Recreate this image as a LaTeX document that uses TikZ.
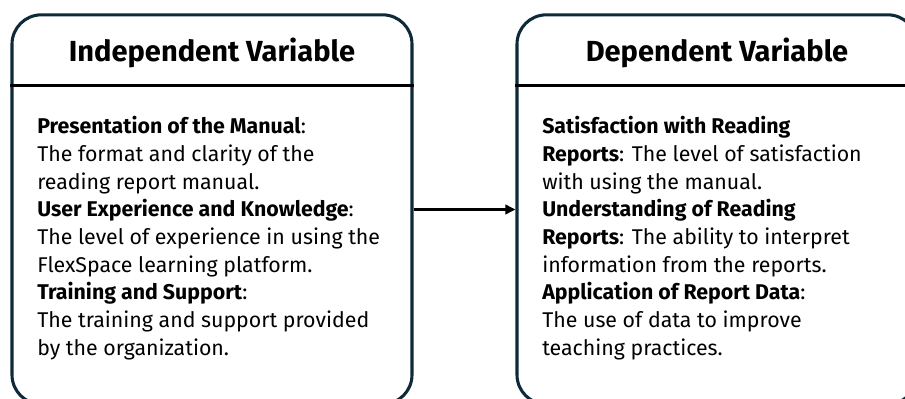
\documentclass[tikz,border=0pt]{standalone}
\usepackage{fontspec}
\setmainfont{Fira Sans}
\usetikzlibrary{arrows.meta}
\definecolor{rahmen}{RGB}{14,41,56}
\tikzset{
	varbox/.style={rectangle,rounded corners=22pt,draw=rahmen,line width=2.3pt,minimum width=300pt,minimum height=292pt,inner sep=0pt},
	trenner/.style={line width=2.3pt,draw=black},
	titel/.style={font=\bfseries\fontsize{21.8}{26}\selectfont,anchor=base,inner sep=0pt},
	inhalt/.style={font=\fontsize{16}{20.8}\selectfont,align=left,anchor=north west,inner sep=0pt},
	pfeil/.style={line width=1.9pt,-{Triangle[length=7.5pt,width=7pt]}},
}
\begin{document}
\begin{tikzpicture}[x=0.75pt,y=-0.75pt]
	\useasboundingbox (0,0) rectangle (905,399);
	\def\xAbstand{505}
	\def\yMitte{209.5}
	% Kaesten
	\node[varbox] (iv) at (212,\yMitte) {};
	\node[varbox] (dv) at (212+\xAbstand,\yMitte) {};
	\draw[trenner] ([yshift=-54pt]iv.north west) -- ([yshift=-54pt]iv.north east);
	\draw[trenner] ([yshift=-54pt]dv.north west) -- ([yshift=-54pt]dv.north east);
	% Titel
	\node[titel] (ivtitel) at (212,62) {Independent Variable};
	\node[titel] (dvtitel) at (212+\xAbstand,62) {Dependent Variable};
	% Inhalt
	\node[inhalt] (ivtext) at (37,116) {\textbf{Presentation of the Manual}:\\The format and clarity of the\\reading report manual.\\\textbf{User Experience and Knowledge}:\\The level of experience in using the\\FlexSpace learning platform.\\\textbf{Training and Support}:\\The training and support provided\\by the organization.};
	\node[inhalt] (dvtext) at (37+\xAbstand,116) {\textbf{Satisfaction with Reading}\\\textbf{Reports}: The level of satisfaction\\with using the manual.\\\textbf{Understanding of Reading}\\\textbf{Reports}: The ability to interpret\\information from the reports.\\\textbf{Application of Report Data}:\\The use of data to improve\\teaching practices.};
	% Pfeil
	\draw[pfeil] (iv.east) -- (dv.west);
\end{tikzpicture}
\end{document}
